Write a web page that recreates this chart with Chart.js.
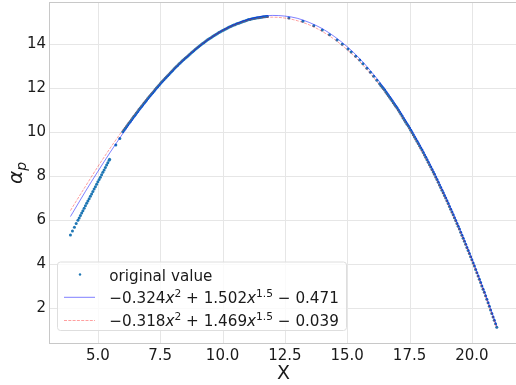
<!DOCTYPE html>
<html><head><meta charset="utf-8">
<script src="https://cdn.jsdelivr.net/npm/chart.js@4"></script>
<style>html,body{margin:0;padding:0;background:#fff;overflow:hidden}</style>
</head><body>
<canvas id="c" width="516" height="385" style="width:516px;height:385px;display:block"></canvas>
<script>
// ---- data ----
const seriesNames = ['original value', '\u22120.324x\u00b2 + 1.502x\u00b9\u02d9\u2075 \u2212 0.471', '\u22120.318x\u00b2 + 1.469x\u00b9\u02d9\u2075 \u2212 0.039'];
const coefA = ['0.324', '1.502', '0.471'];
const coefB = ['0.318', '1.469', '0.039'];
const xTicks = [5, 7.5, 10, 12.5, 15, 17.5, 20];
const yTicks = [2, 4, 6, 8, 10, 12, 14];
const xTitle = 'X';

// observed points: rising straight part, rising curve part, falling part
const obsX1 = [3.90,3.98,4.06,4.13,4.20,4.25,4.30,4.35,4.40,4.45,4.50,4.55,4.60,4.65,4.70,4.75,4.80,4.85,4.90,4.95,5.00,5.05,5.10,5.15,5.20,5.25,5.30,5.35,5.40,5.45,5.47];
const obsY1 = [5.33,5.51,5.69,5.85,6.00,6.11,6.22,6.33,6.44,6.55,6.66,6.77,6.88,6.98,7.09,7.20,7.31,7.42,7.53,7.64,7.75,7.85,7.96,8.07,8.18,8.29,8.40,8.51,8.62,8.73,8.77];
const obsX2 = [5.72,5.88,
  6.00,6.05,6.10,6.15,6.20,6.25,6.30,6.35,6.40,6.45,6.50,6.55,6.60,6.65,6.70,6.75,6.80,6.85,6.90,6.95,
  7.00,7.05,7.10,7.15,7.20,7.25,7.30,7.35,7.40,7.45,7.50,7.55,7.60,7.65,7.70,7.75,7.80,7.85,7.90,7.95,
  8.00,8.05,8.10,8.15,8.20,8.25,8.30,8.35,8.40,8.45,8.50,8.55,8.60,8.65,8.70,8.75,8.80,8.85,8.90,8.95,
  9.00,9.05,9.10,9.15,9.20,9.25,9.30,9.35,9.40,9.45,9.50,9.55,9.60,9.65,9.70,9.75,9.80,9.85,9.90,9.95,
  10.00,10.05,10.10,10.15,10.20,10.25,10.30,10.35,10.40,10.45,10.50,10.55,10.60,10.65,10.70,10.75,10.80,10.85,10.90,10.95,
  11.00,11.05,11.10,11.15,11.20,11.25,11.30,11.35,11.40,11.45,11.50,11.55,11.60,11.65,11.70,11.75,11.80];
const obsY2 = [9.42,9.72,
  10.02,10.10,10.18,10.26,10.34,10.42,10.49,10.57,10.65,10.73,10.80,10.88,10.95,11.03,11.10,11.17,11.24,11.32,11.39,11.46,
  11.53,11.60,11.67,11.74,11.80,11.87,11.94,12.01,12.07,12.14,12.20,12.27,12.33,12.39,12.45,12.51,12.57,12.63,12.69,12.75,
  12.81,12.87,12.93,12.99,13.04,13.10,13.15,13.21,13.26,13.31,13.36,13.41,13.46,13.51,13.56,13.61,13.66,13.71,13.76,13.81,
  13.85,13.90,13.94,13.99,14.03,14.07,14.11,14.16,14.20,14.24,14.27,14.31,14.35,14.39,14.42,14.46,14.49,14.53,14.56,14.59,
  14.62,14.65,14.68,14.71,14.74,14.77,14.79,14.82,14.85,14.87,14.89,14.92,14.94,14.96,14.98,15.00,15.02,15.04,15.06,15.08,
  15.10,15.12,15.13,15.15,15.16,15.17,15.18,15.19,15.20,15.21,15.22,15.23,15.24,15.25,15.25,15.26,15.26];
const obsX3 = [12.66,13.22,13.66,14.00,14.29,14.59,14.80,15.03,15.16,15.34,15.50,15.63,15.79,15.93,16.06,16.19,
  16.30,16.35,16.40,16.45,16.50,16.55,16.60,16.65,16.70,16.75,16.80,16.85,16.90,16.95,17.00,17.05,17.10,17.15,17.20,17.25,17.30,17.35,17.40,17.45,17.50,17.55,17.60,17.65,17.70,17.75,17.80,17.85,17.90,17.95,
  18.00,18.05,18.10,18.15,18.20,18.25,18.30,18.35,18.40,18.45,18.50,18.55,18.60,18.65,18.70,18.75,18.80,18.85,18.90,18.95,19.00,19.05,19.10,19.15,19.20,19.25,19.30,19.35,19.40,19.45,19.50,19.55,19.60,19.65,19.70,19.75,19.80,19.85,19.90,19.95,
  20.00,20.05,20.10,20.15,20.20,20.25,20.30,20.35,20.40,20.45,20.50,20.55,20.60,20.65,20.70,20.75,20.80,20.85,20.90,20.95,21.00];
const obsY3 = [15.19,15.04,14.84,14.65,14.43,14.19,14.00,13.79,13.65,13.45,13.28,13.11,12.91,12.73,12.55,12.37,
  12.21,12.13,12.06,11.99,11.92,11.83,11.75,11.67,11.59,11.51,11.43,11.34,11.26,11.18,11.10,11.01,10.92,10.83,10.74,10.64,10.55,10.46,10.37,10.28,10.19,10.09,9.99,9.89,9.79,9.69,9.59,9.49,9.39,9.29,
  9.19,9.08,8.97,8.86,8.75,8.64,8.53,8.42,8.31,8.20,8.09,7.97,7.85,7.73,7.61,7.49,7.37,7.25,7.13,7.01,6.89,6.76,6.63,6.50,6.38,6.25,6.12,5.99,5.86,5.73,5.60,5.46,5.32,5.18,5.05,4.91,4.77,4.63,4.49,4.35,
  4.21,4.06,3.92,3.77,3.62,3.47,3.32,3.17,3.02,2.87,2.73,2.57,2.41,2.25,2.09,1.93,1.77,1.61,1.46,1.30,1.14];

// fitted curves, sampled along x
const fitX = [3.9,4.0,4.5,5.0,5.5,6.0,6.5,7.0,7.5,8.0,8.5,9.0,9.5,10.0,10.5,11.0,11.5,12.0,12.5,13.0,13.5,14.0,14.5,15.0,15.5,16.0,16.5,17.0,17.5,18.0,18.5,19.0,19.5,20.0,20.5,21.0];
const fitA = [6.17,6.36,7.31,8.22,9.10,9.94,10.73,11.47,12.16,12.78,13.34,13.84,14.27,14.63,14.91,15.12,15.26,15.31,15.28,15.18,14.98,14.71,14.34,13.89,13.35,12.71,11.99,11.17,10.26,9.26,8.16,6.96,5.67,4.27,2.78,1.19];
const fitB = [6.44,6.63,7.54,8.44,9.29,10.10,10.87,11.59,12.25,12.85,13.39,13.87,14.28,14.62,14.88,15.08,15.19,15.23,15.19,15.07,14.87,14.58,14.21,13.75,13.21,12.57,11.84,11.03,10.12,9.11,8.02,6.82,5.54,4.15,2.67,1.09];

// ---- styling ----
const FONT = '"DejaVu Sans", sans-serif';
const TXT = '#1a1a1a';
const SCAT = '#1f77b4';
const LINE_A = 'rgba(0,0,255,0.5)';
const LINE_B = 'rgba(255,0,0,0.42)';
const GRID = '#e6e6e6';
const SPINE = '#c8c8c8';

function pts(xs, ys) { return xs.map((x, i) => ({ x: x, y: ys[i] })); }
const obsPts = pts(obsX1, obsY1).concat(pts(obsX2, obsY2), pts(obsX3, obsY3));

function drawRuns(ctx, x, y, runs, size) {
  for (const r of runs) {
    const s = size * ((r.sup || r.sub) ? 0.7 : 1);
    ctx.font = (r.it ? 'italic ' : '') + s + 'px ' + FONT;
    const dy = r.sup ? -size * 0.42 : (r.sub ? size * 0.22 : 0);
    ctx.fillText(r.t, x, y + dy);
    x += ctx.measureText(r.t).width;
  }
  return x;
}
function polyRuns(c) {
  return [
    { t: '\u2212' + c[0] }, { t: 'x', it: true }, { t: '2', sup: true },
    { t: ' + ' + c[1] }, { t: 'x', it: true }, { t: '1.5', sup: true },
    { t: ' \u2212 ' + c[2] }
  ];
}

const deco = {
  id: 'deco',
  beforeDatasetsDraw(chart) {
    const { ctx, chartArea: a } = chart;
    const sx = chart.scales.x, sy = chart.scales.y;
    ctx.save();
    ctx.lineWidth = 1;
    // grid lines at the tick values
    ctx.strokeStyle = GRID;
    ctx.beginPath();
    for (const v of xTicks) {
      const px = Math.round(sx.getPixelForValue(v)) + 0.5;
      ctx.moveTo(px, a.top); ctx.lineTo(px, a.bottom);
    }
    for (const v of yTicks) {
      const py = Math.round(sy.getPixelForValue(v)) + 0.5;
      ctx.moveTo(a.left, py); ctx.lineTo(a.right, py);
    }
    ctx.stroke();
    // spines (right spine lies outside the picture)
    ctx.strokeStyle = SPINE;
    ctx.beginPath();
    ctx.moveTo(a.left, a.top + 0.5); ctx.lineTo(a.right, a.top + 0.5);
    ctx.moveTo(a.left + 0.5, a.top); ctx.lineTo(a.left + 0.5, a.bottom);
    ctx.moveTo(a.left, a.bottom - 0.5); ctx.lineTo(a.right, a.bottom - 0.5);
    ctx.stroke();
    ctx.restore();
  },
  afterDraw(chart) {
    const { ctx } = chart;
    ctx.save();
    ctx.fillStyle = TXT;
    ctx.textBaseline = 'alphabetic';
    ctx.font = '19px ' + FONT;
    ctx.textAlign = 'center';
    ctx.fillText(xTitle, 283.5, 378.5);
    ctx.save();
    ctx.translate(21.5, 173);
    ctx.rotate(-Math.PI / 2);
    ctx.textAlign = 'left';
    ctx.font = 'italic 20px ' + FONT;
    const wA = ctx.measureText('\u03b1').width;
    ctx.font = 'italic 14px ' + FONT;
    const wP = ctx.measureText('p').width;
    drawRuns(ctx, -(wA + wP) / 2, 0, [{ t: '\u03b1', it: true }, { t: 'p', it: true, sub: true }], 20);
    ctx.restore();

    // legend
    const lx = 57.5, ly = 262, lw = 289, lh = 68.5;
    ctx.beginPath();
    if (ctx.roundRect) ctx.roundRect(lx, ly, lw, lh, 3); else ctx.rect(lx, ly, lw, lh);
    ctx.fillStyle = 'rgba(255,255,255,0.8)';
    ctx.fill();
    ctx.strokeStyle = '#dedede';
    ctx.lineWidth = 1;
    ctx.stroke();

    const size = 15.2;
    const tx = 109.3;
    const base = [280.5, 303.3, 326];
    ctx.fillStyle = SCAT;
    ctx.beginPath(); ctx.arc(80, base[0] - 6, 1.2, 0, Math.PI * 2); ctx.fill();
    ctx.fillStyle = TXT;
    ctx.textAlign = 'left';
    drawRuns(ctx, tx, base[0], [{ t: seriesNames[0] }], size);
    ctx.strokeStyle = LINE_A; ctx.lineWidth = 1;
    ctx.beginPath(); ctx.moveTo(64, base[1] - 6); ctx.lineTo(95, base[1] - 6); ctx.stroke();
    ctx.fillStyle = TXT;
    drawRuns(ctx, tx, base[1], polyRuns(coefA), size);
    ctx.strokeStyle = LINE_B; ctx.lineWidth = 0.9; ctx.setLineDash([3, 1.3]);
    ctx.beginPath(); ctx.moveTo(64, base[2] - 5.5); ctx.lineTo(95, base[2] - 5.5); ctx.stroke();
    ctx.setLineDash([]);
    ctx.fillStyle = TXT;
    drawRuns(ctx, tx, base[2], polyRuns(coefB), size);
    ctx.restore();
  }
};

new Chart(document.getElementById('c'), {
  type: 'scatter',
  data: {
    datasets: [
      { label: seriesNames[0], data: obsPts, showLine: false, pointRadius: 1.5, pointHoverRadius: 1.5,
        pointBackgroundColor: SCAT, pointBorderWidth: 0, borderColor: SCAT, order: 3 },
      { label: seriesNames[1], data: pts(fitX, fitA), showLine: true, pointRadius: 0, borderColor: LINE_A,
        borderWidth: 1, cubicInterpolationMode: 'monotone', fill: false, order: 2 },
      { label: seriesNames[2], data: pts(fitX, fitB), showLine: true, pointRadius: 0, borderColor: LINE_B,
        borderWidth: 0.9, borderDash: [3, 1.3], cubicInterpolationMode: 'monotone', fill: false, order: 1 }
    ]
  },
  options: {
    responsive: false,
    devicePixelRatio: 1,
    animation: false,
    layout: { autoPadding: false, padding: { top: 2, right: 0, left: 0, bottom: 0 } },
    plugins: { legend: { display: false }, tooltip: { enabled: false } },
    scales: {
      x: {
        type: 'linear', min: 3.04, max: 21.77,
        afterBuildTicks: s => { s.ticks = xTicks.map(v => ({ value: v })); },
        afterFit: s => { s.height = 41; s.paddingLeft = 0; s.paddingRight = 0; s.paddingTop = 0; s.paddingBottom = 0; },
        ticks: { callback: v => Number(v).toFixed(1), font: { family: FONT, size: 15 }, color: TXT, padding: 3, maxRotation: 0, autoSkip: false },
        grid: { display: false, drawTicks: false },
        border: { display: false }
      },
      y: {
        type: 'linear', min: 0.38, max: 15.92,
        afterBuildTicks: s => { s.ticks = yTicks.map(v => ({ value: v })); },
        afterFit: s => { s.width = 49; s.paddingLeft = 0; s.paddingRight = 0; s.paddingTop = 0; s.paddingBottom = 0; },
        ticks: { callback: v => String(v), font: { family: FONT, size: 15 }, color: TXT, padding: 3, autoSkip: false },
        grid: { display: false, drawTicks: false },
        border: { display: false }
      }
    }
  },
  plugins: [deco]
});
</script>
</body></html>
